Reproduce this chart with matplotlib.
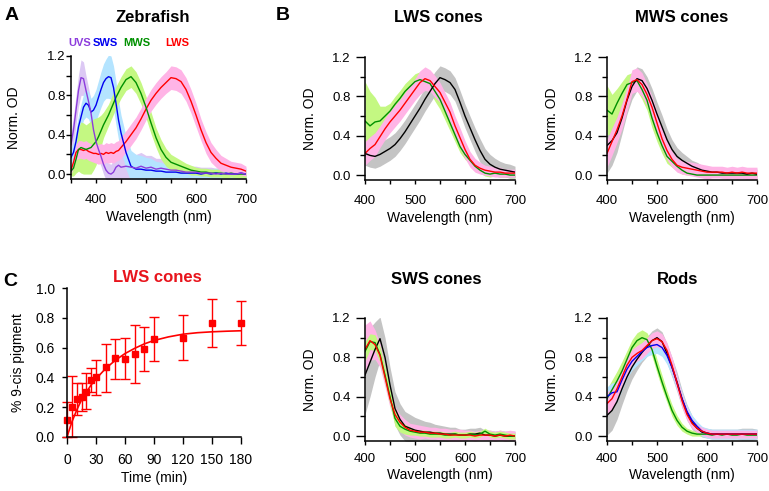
import matplotlib
matplotlib.use("Agg")
import matplotlib.pyplot as plt
from matplotlib.ticker import MultipleLocator

plt.rcParams["font.family"] = ["Liberation Sans", "DejaVu Sans"]

# ---------------------------------------
# Data
# ---------------------------------------

# Panel A - zebrafish cone spectra
wl_a = [350, 355, 360, 365, 370, 375, 380, 385, 390, 395, 400, 405, 410, 415,
        420, 425, 430, 435, 440, 445, 450, 460, 470, 480, 490, 500, 510, 520,
        530, 540, 550, 560, 570, 580, 590, 600, 610, 620, 630, 640, 650, 660,
        670, 680, 690, 700]

uvs = [0.30, 0.45, 0.65, 0.85, 0.98, 0.97, 0.85, 0.74, 0.62, 0.45, 0.33, 0.25,
       0.18, 0.10, 0.04, 0.01, 0.00, 0.02, 0.07, 0.09, 0.07, 0.08, 0.07, 0.06,
       0.08, 0.06, 0.07, 0.05, 0.06, 0.05, 0.04, 0.04, 0.03, 0.02, 0.02, 0.02,
       0.01, 0.01, 0.01, 0.00, 0.01, 0.00, 0.00, 0.00, 0.01, 0.00]
uvs_sd = [0.12, 0.14, 0.15, 0.16, 0.18, 0.17, 0.15, 0.14, 0.13, 0.12, 0.12,
          0.11, 0.10, 0.10, 0.10, 0.10, 0.10, 0.12, 0.14, 0.15, 0.15, 0.15,
          0.14, 0.14, 0.14, 0.13, 0.12, 0.11, 0.10, 0.09, 0.08, 0.08, 0.07,
          0.07, 0.06, 0.06, 0.06, 0.06, 0.06, 0.06, 0.06, 0.06, 0.06, 0.06,
          0.06, 0.06]

sws = [0.17, 0.22, 0.33, 0.48, 0.58, 0.68, 0.72, 0.70, 0.63, 0.65, 0.70, 0.78,
       0.86, 0.93, 0.97, 0.99, 0.98, 0.88, 0.72, 0.55, 0.42, 0.22, 0.08, 0.05,
       0.05, 0.04, 0.04, 0.03, 0.03, 0.02, 0.02, 0.02, 0.01, 0.01, 0.01, 0.01,
       0.00, 0.01, 0.00, 0.01, 0.00, 0.01, 0.00, 0.00, 0.01, 0.00]
sws_sd = [0.10, 0.10, 0.12, 0.12, 0.13, 0.13, 0.14, 0.14, 0.14, 0.15, 0.16,
          0.17, 0.18, 0.19, 0.20, 0.22, 0.22, 0.22, 0.22, 0.20, 0.18, 0.17,
          0.16, 0.15, 0.14, 0.13, 0.12, 0.10, 0.09, 0.08, 0.07, 0.06, 0.05,
          0.05, 0.05, 0.05, 0.05, 0.05, 0.05, 0.05, 0.05, 0.05, 0.05, 0.05,
          0.05, 0.05]

mws = [0.03, 0.06, 0.15, 0.25, 0.27, 0.26, 0.25, 0.26, 0.27, 0.30, 0.33, 0.38,
       0.44, 0.50, 0.55, 0.60, 0.66, 0.72, 0.78, 0.83, 0.88, 0.96, 0.99, 0.93,
       0.82, 0.68, 0.52, 0.37, 0.25, 0.17, 0.12, 0.10, 0.08, 0.06, 0.04, 0.03,
       0.02, 0.02, 0.01, 0.01, 0.01, 0.00, 0.01, 0.00, 0.00, 0.00]
mws_sd = [0.05, 0.08, 0.14, 0.22, 0.26, 0.26, 0.25, 0.26, 0.27, 0.26, 0.24,
          0.20, 0.16, 0.13, 0.12, 0.11, 0.11, 0.11, 0.11, 0.11, 0.11, 0.11,
          0.11, 0.11, 0.11, 0.11, 0.11, 0.10, 0.10, 0.09, 0.08, 0.07, 0.06,
          0.05, 0.05, 0.04, 0.04, 0.04, 0.04, 0.04, 0.04, 0.04, 0.04, 0.04,
          0.04, 0.04]

lws = [0.04, 0.12, 0.22, 0.25, 0.25, 0.24, 0.25, 0.23, 0.22, 0.21, 0.21, 0.20,
       0.21, 0.20, 0.22, 0.21, 0.22, 0.21, 0.23, 0.24, 0.27, 0.33, 0.40, 0.47,
       0.56, 0.66, 0.75, 0.82, 0.88, 0.93, 0.98, 0.97, 0.94, 0.86, 0.74, 0.60,
       0.45, 0.32, 0.22, 0.16, 0.11, 0.09, 0.07, 0.06, 0.05, 0.03]
lws_sd = [0.04, 0.06, 0.08, 0.09, 0.09, 0.09, 0.09, 0.09, 0.09, 0.09, 0.10,
          0.10, 0.10, 0.10, 0.10, 0.10, 0.10, 0.10, 0.10, 0.10, 0.11, 0.11,
          0.11, 0.11, 0.11, 0.11, 0.11, 0.11, 0.11, 0.11, 0.12, 0.12, 0.12,
          0.12, 0.12, 0.12, 0.11, 0.11, 0.10, 0.09, 0.08, 0.07, 0.06, 0.06,
          0.06, 0.05]

# Panel B - spectra per cell type (black / red / green / blue traces)
wl_b = [400, 410, 420, 430, 440, 450, 460, 470, 480, 490, 500, 510, 520, 530,
        540, 550, 560, 570, 580, 590, 600, 610, 620, 630, 640, 650, 660, 670,
        680, 690, 700]

lws_black = [0.22, 0.20, 0.19, 0.21, 0.24, 0.27, 0.31, 0.37, 0.44, 0.52, 0.60,
             0.68, 0.77, 0.85, 0.93, 0.99, 0.97, 0.94, 0.87, 0.74, 0.60, 0.48,
             0.36, 0.25, 0.16, 0.11, 0.08, 0.06, 0.05, 0.04, 0.03]
lws_red = [0.22, 0.27, 0.31, 0.39, 0.47, 0.54, 0.60, 0.66, 0.73, 0.80, 0.87,
           0.94, 0.98, 0.96, 0.90, 0.84, 0.74, 0.64, 0.50, 0.38, 0.26, 0.16,
           0.10, 0.07, 0.05, 0.04, 0.03, 0.03, 0.02, 0.02, 0.02]
lws_green = [0.55, 0.50, 0.54, 0.55, 0.60, 0.65, 0.72, 0.78, 0.85, 0.90, 0.95,
             0.97, 0.95, 0.93, 0.85, 0.77, 0.65, 0.53, 0.41, 0.29, 0.21, 0.15,
             0.09, 0.05, 0.02, 0.01, 0.02, 0.01, 0.01, 0.00, 0.00]
lws_black_sd = [0.12, 0.12, 0.12, 0.12, 0.12, 0.12, 0.12, 0.12, 0.12, 0.12,
                0.12, 0.12, 0.12, 0.12, 0.12, 0.12, 0.12, 0.12, 0.12, 0.12,
                0.12, 0.12, 0.12, 0.12, 0.11, 0.10, 0.09, 0.08, 0.07, 0.07,
                0.06]
lws_red_sd = [0.12, 0.12, 0.12, 0.11, 0.11, 0.11, 0.11, 0.11, 0.11, 0.11,
              0.11, 0.12, 0.12, 0.11, 0.11, 0.10, 0.10, 0.10, 0.10, 0.10,
              0.09, 0.08, 0.07, 0.06, 0.05, 0.05, 0.05, 0.05, 0.04, 0.04,
              0.04]
lws_green_sd = [0.40, 0.35, 0.25, 0.15, 0.10, 0.08, 0.08, 0.08, 0.08, 0.08,
                0.08, 0.08, 0.09, 0.09, 0.10, 0.10, 0.09, 0.08, 0.07, 0.06,
                0.05, 0.04, 0.04, 0.03, 0.03, 0.03, 0.03, 0.03, 0.03, 0.03,
                0.03]

mws_black = [0.30, 0.35, 0.43, 0.58, 0.76, 0.90, 0.98, 0.96, 0.88, 0.76, 0.62,
             0.49, 0.36, 0.26, 0.19, 0.15, 0.12, 0.09, 0.07, 0.05, 0.04, 0.03,
             0.03, 0.02, 0.02, 0.02, 0.02, 0.02, 0.01, 0.02, 0.01]
mws_red = [0.22, 0.34, 0.46, 0.60, 0.77, 0.95, 0.97, 0.92, 0.82, 0.69, 0.53,
           0.37, 0.25, 0.16, 0.10, 0.08, 0.07, 0.06, 0.05, 0.04, 0.03, 0.03,
           0.03, 0.03, 0.02, 0.03, 0.02, 0.03, 0.02, 0.02, 0.02]
mws_green = [0.66, 0.62, 0.73, 0.83, 0.92, 0.94, 0.96, 0.87, 0.76, 0.58, 0.43,
             0.30, 0.19, 0.14, 0.09, 0.05, 0.02, 0.01, 0.00, 0.00, 0.00, 0.00,
             0.00, 0.00, 0.00, 0.00, 0.00, 0.00, 0.00, 0.00, 0.00]
mws_black_sd = [0.28, 0.25, 0.20, 0.16, 0.14, 0.13, 0.12, 0.12, 0.12, 0.12,
                0.12, 0.12, 0.11, 0.10, 0.09, 0.08, 0.07, 0.06, 0.06, 0.05,
                0.05, 0.05, 0.05, 0.05, 0.05, 0.05, 0.05, 0.05, 0.05, 0.05,
                0.05]
mws_red_sd = [0.14, 0.14, 0.13, 0.13, 0.12, 0.12, 0.12, 0.12, 0.11, 0.11,
              0.11, 0.10, 0.09, 0.08, 0.07, 0.07, 0.07, 0.07, 0.07, 0.07,
              0.07, 0.06, 0.06, 0.06, 0.06, 0.06, 0.06, 0.06, 0.06, 0.06,
              0.06]
mws_green_sd = [0.25, 0.20, 0.15, 0.12, 0.10, 0.10, 0.10, 0.10, 0.10, 0.10,
                0.09, 0.08, 0.07, 0.06, 0.05, 0.04, 0.02, 0.01, 0.01, 0.01,
                0.01, 0.01, 0.01, 0.01, 0.01, 0.01, 0.01, 0.01, 0.01, 0.01,
                0.01]

sws_black = [0.62, 0.75, 0.88, 0.99, 0.80, 0.52, 0.28, 0.17, 0.10, 0.08, 0.06,
             0.05, 0.04, 0.04, 0.03, 0.03, 0.02, 0.02, 0.02, 0.01, 0.01, 0.02,
             0.02, 0.03, 0.01, 0.01, 0.00, 0.01, 0.00, 0.00, 0.00]
sws_red = [0.88, 0.97, 0.93, 0.82, 0.60, 0.38, 0.22, 0.14, 0.09, 0.06, 0.05,
           0.04, 0.04, 0.03, 0.03, 0.02, 0.02, 0.01, 0.01, 0.01, 0.01, 0.01,
           0.00, 0.01, 0.01, 0.01, 0.00, 0.01, 0.00, 0.01, 0.00]
sws_green = [0.86, 0.96, 0.95, 0.83, 0.62, 0.40, 0.18, 0.10, 0.07, 0.05, 0.04,
             0.03, 0.03, 0.02, 0.02, 0.02, 0.01, 0.01, 0.02, 0.01, 0.01, 0.02,
             0.01, 0.02, 0.05, 0.02, 0.01, 0.02, 0.01, 0.00, 0.00]
sws_black_sd = [0.40, 0.35, 0.28, 0.22, 0.20, 0.18, 0.17, 0.16, 0.15, 0.14,
                0.13, 0.12, 0.11, 0.10, 0.09, 0.08, 0.08, 0.07, 0.07, 0.06,
                0.06, 0.06, 0.06, 0.06, 0.05, 0.05, 0.05, 0.05, 0.05, 0.05,
                0.05]
sws_red_sd = [0.25, 0.20, 0.15, 0.12, 0.10, 0.09, 0.08, 0.08, 0.08, 0.07,
              0.07, 0.07, 0.06, 0.06, 0.06, 0.06, 0.06, 0.06, 0.06, 0.06,
              0.05, 0.05, 0.05, 0.05, 0.05, 0.05, 0.05, 0.05, 0.05, 0.05,
              0.05]
sws_green_sd = [0.10, 0.08, 0.08, 0.08, 0.08, 0.08, 0.08, 0.06, 0.05, 0.04,
                0.03, 0.03, 0.03, 0.03, 0.03, 0.03, 0.03, 0.03, 0.03, 0.03,
                0.03, 0.03, 0.03, 0.03, 0.03, 0.03, 0.03, 0.03, 0.03, 0.03,
                0.03]

rod_black = [0.21, 0.26, 0.35, 0.48, 0.60, 0.70, 0.78, 0.85, 0.91, 0.97, 1.00,
             0.96, 0.84, 0.70, 0.55, 0.38, 0.24, 0.14, 0.08, 0.04, 0.03, 0.02,
             0.02, 0.02, 0.02, 0.02, 0.02, 0.02, 0.02, 0.02, 0.02]
rod_red = [0.33, 0.38, 0.48, 0.60, 0.72, 0.80, 0.84, 0.87, 0.92, 0.97, 0.99,
           0.96, 0.87, 0.72, 0.54, 0.36, 0.22, 0.13, 0.08, 0.05, 0.03, 0.02,
           0.02, 0.02, 0.02, 0.02, 0.02, 0.02, 0.02, 0.02, 0.02]
rod_green = [0.38, 0.47, 0.56, 0.66, 0.78, 0.90, 0.97, 1.00, 0.98, 0.88, 0.71,
             0.55, 0.40, 0.26, 0.16, 0.09, 0.05, 0.03, 0.02, 0.02, 0.02, 0.01,
             0.02, 0.01, 0.02, 0.01, 0.01, 0.02, 0.01, 0.01, 0.01]
rod_blue = [0.40, 0.44, 0.45, 0.57, 0.68, 0.76, 0.81, 0.86, 0.90, 0.92, 0.93,
            0.90, 0.82, 0.70, 0.54, 0.38, 0.25, 0.16, 0.10, 0.05, 0.03, 0.02,
            0.02, 0.02, 0.02, 0.02, 0.02, 0.02, 0.02, 0.02, 0.02]
rod_black_sd = [0.20, 0.20, 0.18, 0.16, 0.14, 0.12, 0.11, 0.10, 0.10, 0.10,
                0.10, 0.10, 0.10, 0.10, 0.10, 0.09, 0.08, 0.07, 0.06, 0.05,
                0.05, 0.05, 0.05, 0.05, 0.05, 0.05, 0.05, 0.06, 0.06, 0.06,
                0.05]
rod_red_sd = [0.12, 0.10, 0.10, 0.09, 0.09, 0.08, 0.08, 0.08, 0.08, 0.08,
              0.08, 0.08, 0.08, 0.08, 0.07, 0.07, 0.06, 0.05, 0.04, 0.04,
              0.04, 0.04, 0.04, 0.04, 0.04, 0.04, 0.04, 0.04, 0.04, 0.04,
              0.04]
rod_green_sd = [0.10, 0.10, 0.10, 0.10, 0.09, 0.08, 0.08, 0.08, 0.07, 0.07,
                0.07, 0.07, 0.06, 0.06, 0.05, 0.04, 0.03, 0.03, 0.02, 0.02,
                0.02, 0.02, 0.02, 0.02, 0.02, 0.02, 0.02, 0.02, 0.02, 0.02,
                0.02]
rod_blue_sd = [0.10, 0.10, 0.10, 0.10, 0.09, 0.09, 0.09, 0.09, 0.09, 0.09,
               0.09, 0.09, 0.09, 0.09, 0.08, 0.07, 0.06, 0.05, 0.05, 0.05,
               0.05, 0.05, 0.05, 0.05, 0.05, 0.05, 0.05, 0.05, 0.05, 0.05,
               0.05]

# Panel C - 9-cis pigment regeneration in LWS cones
t_min = [0, 5, 10, 15, 20, 25, 30, 40, 50, 60, 70, 80, 90, 120, 150, 180]
cis_mean = [0.116, 0.20, 0.255, 0.27, 0.305, 0.38, 0.40, 0.47, 0.53, 0.525,
            0.56, 0.59, 0.66, 0.665, 0.766, 0.766]
cis_low = [0.0, 0.0, 0.15, 0.175, 0.19, 0.30, 0.28, 0.30, 0.39, 0.39, 0.365,
           0.445, 0.51, 0.52, 0.605, 0.615]
cis_high = [0.235, 0.41, 0.365, 0.36, 0.43, 0.465, 0.515, 0.625, 0.655, 0.665,
            0.75, 0.735, 0.805, 0.82, 0.925, 0.91]

fit_t = [0, 5, 10, 15, 20, 25, 30, 40, 50, 60, 70, 80, 90, 105, 120, 135,
         150, 165, 180]
fit_y = [0.0, 0.10, 0.18, 0.25, 0.30, 0.35, 0.39, 0.46, 0.515, 0.56, 0.595,
         0.625, 0.648, 0.672, 0.69, 0.70, 0.706, 0.71, 0.713]

# colours
purple = "#8c3cdc"
blue = "#0000f0"
green = "#009000"
red = "#ff0000"
black = "#000000"
purple_band = "#dcc8f4"
blue_band = "#b4e4ff"
green_band = "#c4f882"
pink_band = "#ffb4e6"
gray_band = "#c4c4c4"

W, H = 769, 491
fig = plt.figure(figsize=(W / 100, H / 100), dpi=100)


def add_ax(left, top, right, bottom):
    return fig.add_axes([left / W, 1 - bottom / H,
                         (right - left) / W, (bottom - top) / H])


def style_spectrum_ax(ax, x0, ymajor, ypad, ylabelpad, xpad, xlabelpad):
    ax.set_xlim(x0, 700)
    ax.set_ylim(-0.05, 1.2)
    ax.spines["top"].set_visible(False)
    ax.spines["right"].set_visible(False)
    ax.spines["left"].set_linewidth(1.1)
    ax.spines["bottom"].set_linewidth(1.1)
    ax.xaxis.set_minor_locator(MultipleLocator(50))
    ax.set_xticks([400, 500, 600, 700])
    ax.set_yticks([0, 0.4, 0.8, 1.2])
    ax.set_yticklabels(["0.0", "0.4", "0.8", "1.2"])
    ax.set_yticks([0.2, 0.6, 1.0], minor=True)
    ax.tick_params(axis="both", which="both", direction="out", width=1,
                   labelsize=9.5)
    ax.tick_params(axis="x", which="both", length=3, pad=xpad)
    ax.tick_params(axis="y", which="major", length=ymajor, pad=ypad)
    ax.tick_params(axis="y", which="minor", length=3.5)
    ax.set_xlabel("Wavelength (nm)", fontsize=10, labelpad=xlabelpad)
    ax.set_ylabel("Norm. OD", fontsize=10, labelpad=ylabelpad)


def band(ax, x, y, sd, color):
    lo = [v - s for v, s in zip(y, sd)]
    hi = [v + s for v, s in zip(y, sd)]
    ax.fill_between(x, lo, hi, color=color, lw=0)


# ---------------------------------------
# Panel A - Zebrafish
# ---------------------------------------
ax_a = add_ax(71, 56, 246, 179)
band(ax_a, wl_a, uvs, uvs_sd, purple_band)
band(ax_a, wl_a, sws, sws_sd, blue_band)
band(ax_a, wl_a, mws, mws_sd, green_band)
band(ax_a, wl_a, lws, lws_sd, pink_band)
ax_a.plot(wl_a, lws, color=red, lw=1.0)
ax_a.plot(wl_a, mws, color=green, lw=1.0)
ax_a.plot(wl_a, sws, color=blue, lw=1.0)
ax_a.plot(wl_a, uvs, color=purple, lw=1.0)
style_spectrum_ax(ax_a, 350, 3.5, 0.5, 19, 8, 3)

for label, xc, col in [("UVS", 79.5, purple), ("SWS", 105.5, blue),
                       ("MWS", 136.5, green), ("LWS", 177.5, red)]:
    fig.text(xc / W, 1 - 43 / H, label, color=col, fontsize=8,
             fontweight="bold", ha="center", va="center")

# ---------------------------------------
# Panel B - LWS / MWS / SWS cones and rods
# ---------------------------------------
ax_lws = add_ax(365, 57, 515, 180)
band(ax_lws, wl_b, lws_green, lws_green_sd, green_band)
band(ax_lws, wl_b, lws_black, lws_black_sd, gray_band)
band(ax_lws, wl_b, lws_red, lws_red_sd, pink_band)
ax_lws.plot(wl_b, lws_green, color=green, lw=1.0)
ax_lws.plot(wl_b, lws_black, color=black, lw=1.0)
ax_lws.plot(wl_b, lws_red, color=red, lw=1.0)
style_spectrum_ax(ax_lws, 400, 6.5, 4, 11, 8, 3)

ax_mws = add_ax(607, 57, 757, 180)
band(ax_mws, wl_b, mws_black, mws_black_sd, gray_band)
band(ax_mws, wl_b, mws_green, mws_green_sd, green_band)
band(ax_mws, wl_b, mws_red, mws_red_sd, pink_band)
ax_mws.plot(wl_b, mws_green, color=green, lw=1.0)
ax_mws.plot(wl_b, mws_black, color=black, lw=1.0)
ax_mws.plot(wl_b, mws_red, color=red, lw=1.0)
style_spectrum_ax(ax_mws, 400, 6.5, 4, 11, 8, 3)

ax_sws = add_ax(365, 318, 515, 441)
band(ax_sws, wl_b, sws_black, sws_black_sd, gray_band)
band(ax_sws, wl_b, sws_red, sws_red_sd, pink_band)
band(ax_sws, wl_b, sws_green, sws_green_sd, green_band)
ax_sws.plot(wl_b, sws_black, color=black, lw=1.0)
ax_sws.plot(wl_b, sws_green, color=green, lw=1.0)
ax_sws.plot(wl_b, sws_red, color=red, lw=1.0)
style_spectrum_ax(ax_sws, 400, 6.5, 4, 11, 6, 1.5)

ax_rod = add_ax(607, 318, 757, 441)
band(ax_rod, wl_b, rod_black, rod_black_sd, gray_band)
band(ax_rod, wl_b, rod_green, rod_green_sd, green_band)
band(ax_rod, wl_b, rod_blue, rod_blue_sd, blue_band)
band(ax_rod, wl_b, rod_red, rod_red_sd, pink_band)
ax_rod.plot(wl_b, rod_green, color=green, lw=1.0)
ax_rod.plot(wl_b, rod_black, color=black, lw=1.0)
ax_rod.plot(wl_b, rod_blue, color=blue, lw=1.0)
ax_rod.plot(wl_b, rod_red, color=red, lw=1.0)
style_spectrum_ax(ax_rod, 400, 6.5, 4, 11, 6, 1.5)

# ---------------------------------------
# Panel C - 9-cis pigment over time
# ---------------------------------------
ax_c = add_ax(67, 288, 241, 437)
err_lo = [m - lo for m, lo in zip(cis_mean, cis_low)]
err_hi = [hi - m for m, hi in zip(cis_mean, cis_high)]
ax_c.plot(fit_t, fit_y, color=red, lw=1.2)
ax_c.errorbar(t_min, cis_mean, yerr=[err_lo, err_hi], fmt="s", color=red,
              ms=3.8, capsize=3.5, elinewidth=1, capthick=1, clip_on=False)
ax_c.set_xlim(0, 180)
ax_c.set_ylim(0, 1.0)
ax_c.spines["top"].set_visible(False)
ax_c.spines["right"].set_visible(False)
ax_c.spines["left"].set_linewidth(1.1)
ax_c.spines["bottom"].set_linewidth(1.1)
ax_c.set_xticks([0, 30, 60, 90, 120, 150, 180])
ax_c.set_yticks([0, 0.2, 0.4, 0.6, 0.8, 1.0])
ax_c.set_yticklabels(["0.0", "0.2", "0.4", "0.6", "0.8", "1.0"])
ax_c.tick_params(axis="both", direction="out", width=1, labelsize=10)
ax_c.tick_params(axis="y", length=3.6, pad=5)
ax_c.tick_params(axis="x", length=4.7, pad=6.5)
ax_c.set_xlabel("Time (min)", fontsize=10, labelpad=3)
ax_c.set_ylabel("% 9-cis pigment", fontsize=10, labelpad=8)

# ---------------------------------------
# Titles and panel letters
# ---------------------------------------
titles = [("Zebrafish", 153, 18, "black"), ("LWS cones", 438, 18, "black"),
          ("MWS cones", 682, 18, "black"), ("SWS cones", 436, 279, "black"),
          ("Rods", 678, 279, "black"), ("LWS cones", 157, 278, "#e8141c")]
for text, xc, yc, col in titles:
    fig.text(xc / W, 1 - yc / H, text, color=col, fontsize=12,
             fontweight="bold", ha="center", va="center")

for letter, xc, yc in [("A", 12, 15), ("B", 283, 15), ("C", 10, 282)]:
    fig.text(xc / W, 1 - yc / H, letter, fontsize=14, fontweight="bold",
             ha="center", va="center")

plt.savefig("out.png", dpi=100)
plt.close()
